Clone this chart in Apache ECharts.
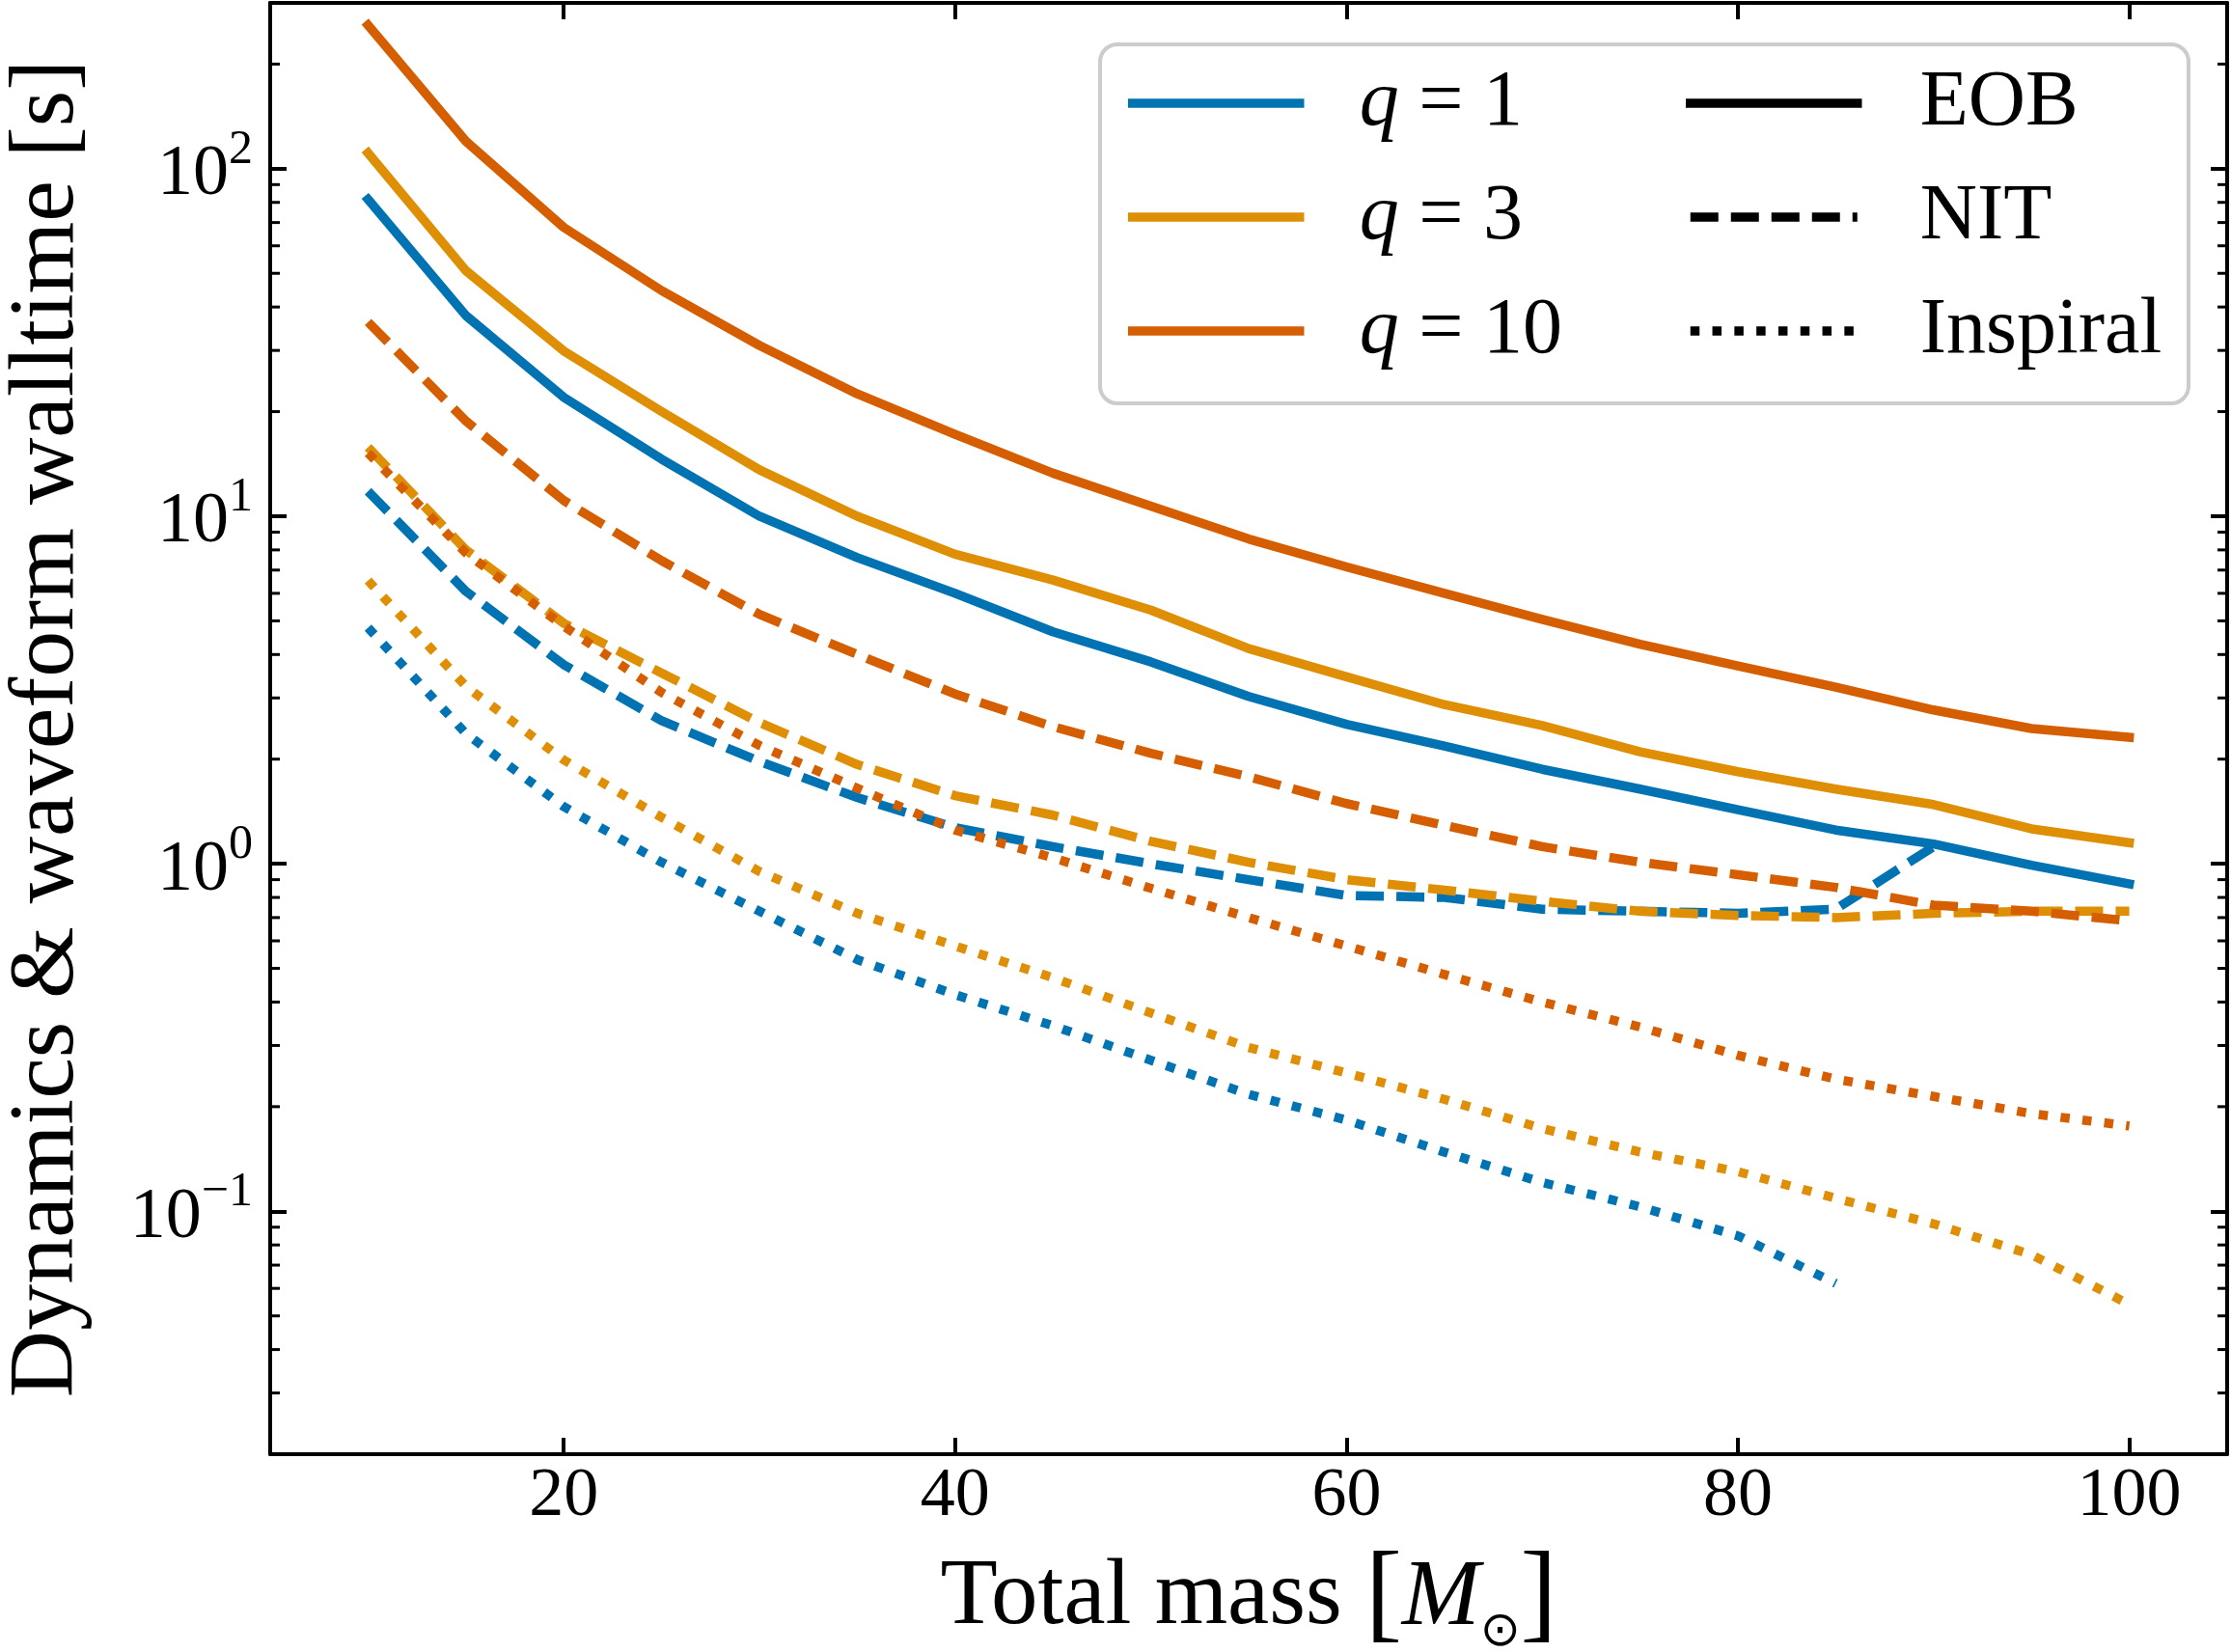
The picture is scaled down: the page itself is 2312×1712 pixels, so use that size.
<!DOCTYPE html>
<html><head><meta charset="utf-8">
<script src="https://cdn.jsdelivr.net/npm/echarts@6/dist/echarts.min.js"></script>
<style>html,body{margin:0;padding:0;background:#fff}#c{width:2312px;height:1712px}</style>
</head><body><div id="c"></div>
<script>
// ---- data ----
const masses = [10, 15, 20, 25, 30, 35, 40, 45, 50, 55, 60, 65, 70, 75, 80, 85, 90, 95, 100];

const q1_EOB = [81.6, 37.8, 22.0, 14.6, 10.0, 7.6, 6.0, 4.65, 3.81, 3.03, 2.52, 2.18, 1.87, 1.64, 1.43, 1.25, 1.14, 0.99, 0.875];
const q3_EOB = [111, 50.9, 29.9, 20.0, 13.6, 10.0, 7.77, 6.55, 5.37, 4.16, 3.45, 2.87, 2.5, 2.10, 1.84, 1.64, 1.48, 1.26, 1.15];
const q10_EOB = [259, 120, 67.8, 44.6, 31.0, 22.5, 17.2, 13.3, 10.7, 8.6, 7.15, 6.0, 5.05, 4.28, 3.71, 3.22, 2.77, 2.45, 2.31];

const q1_NIT = [11.8, 6.08, 3.74, 2.58, 1.97, 1.55, 1.27, 1.12, 1.0, 0.90, 0.81, 0.80, 0.74, 0.73, 0.72, 0.74, 1.12, null, null];
const q3_NIT = [15.8, 8.0, 4.92, 3.54, 2.55, 1.93, 1.57, 1.38, 1.16, 1.01, 0.90, 0.84, 0.78, 0.73, 0.71, 0.70, 0.72, 0.73, 0.73];
const q10_NIT = [36.2, 18.8, 11.1, 7.45, 5.22, 4.0, 3.08, 2.48, 2.08, 1.78, 1.49, 1.29, 1.12, 1.01, 0.93, 0.855, 0.76, 0.73, 0.685];

const q1_Insp = [4.78, 2.37, 1.46, 1.01, 0.73, 0.53, 0.42, 0.342, 0.272, 0.217, 0.183, 0.148, 0.121, 0.103, 0.085, 0.062, null, null, null];
const q3_Insp = [6.53, 3.24, 1.99, 1.36, 0.95, 0.72, 0.58, 0.47, 0.372, 0.296, 0.25, 0.21, 0.173, 0.148, 0.130, 0.109, 0.092, 0.075, 0.054];
const q10_Insp = [15.2, 7.84, 4.83, 3.11, 2.19, 1.65, 1.25, 1.04, 0.85, 0.70, 0.58, 0.48, 0.40, 0.339, 0.281, 0.240, 0.214, 0.191, 0.176];

const qLabels = ['q = 1', 'q = 3', 'q = 10'];
const methodLabels = ['EOB', 'NIT', 'Inspiral'];
const xTickLabels = ['20', '40', '60', '80', '100'];
const yMinorTicks = [0.03, 0.04, 0.05, 0.06, 0.07, 0.08, 0.09,
                     0.2, 0.3, 0.4, 0.5, 0.6, 0.7, 0.8, 0.9,
                     2, 3, 4, 5, 6, 7, 8, 9,
                     20, 30, 40, 50, 60, 70, 80, 90, 200];

// ---- styling ----
const FONT = 'Liberation Serif';
const C_BLUE = '#0173B2', C_ORANGE = '#DE8F05', C_RED = '#D55E00';
const LW = 9.5;
const DASH = [29, 13];
const DOT = [9.5, 13.3];
const X_MIN = 5, X_MAX = 105, Y_MIN = 0.02, Y_MAX = 300;

function pairs(vals) {
  const out = [];
  vals.forEach((v, i) => { if (v !== null) out.push([masses[i], v]); });
  return out;
}
function line(name, vals, color, type) {
  return {
    type: 'line', name: name, data: pairs(vals),
    symbol: 'none', showSymbol: false, smooth: false, silent: true,
    xAxisIndex: 0, yAxisIndex: 0, z: 3,
    lineStyle: { color: color, width: LW, type: type,
      cap: type === 'solid' ? 'square' : 'butt', join: 'round' },
    itemStyle: { color: color }
  };
}

const series = [
  line(qLabels[0], q1_EOB, C_BLUE, 'solid'),
  line('q1 NIT', q1_NIT, C_BLUE, DASH),
  line('q1 Inspiral', q1_Insp, C_BLUE, DOT),
  line(qLabels[1], q3_EOB, C_ORANGE, 'solid'),
  line('q3 NIT', q3_NIT, C_ORANGE, DASH),
  line('q3 Inspiral', q3_Insp, C_ORANGE, DOT),
  line(qLabels[2], q10_EOB, C_RED, 'solid'),
  line('q10 NIT', q10_NIT, C_RED, DASH),
  line('q10 Inspiral', q10_Insp, C_RED, DOT),
  // legend-only style entries
  line(methodLabels[0], [], '#000', 'solid'),
  line(methodLabels[1], [], '#000', DASH),
  line(methodLabels[2], [], '#000', DOT),
  {
    type: 'custom', name: 'minor ticks', silent: true, clip: false, z: 6,
    xAxisIndex: 0, yAxisIndex: 0,
    data: yMinorTicks.map(v => [X_MIN, v]),
    encode: { x: 0, y: 1 },
    renderItem: function (params, api) {
      const v = api.value(1);
      const pl = api.coord([X_MIN, v]);
      const pr = api.coord([X_MAX, v]);
      return { type: 'group', children: [
        { type: 'line', shape: { x1: pl[0], y1: pl[1], x2: pl[0] + 10, y2: pl[1] }, style: { stroke: '#000', lineWidth: 3 } },
        { type: 'line', shape: { x1: pr[0] - 10, y1: pr[1], x2: pr[0], y2: pr[1] }, style: { stroke: '#000', lineWidth: 3 } }
      ]};
    }
  }
];

function yLabel(v) {
  const e = Math.round(Math.log10(v));
  if (Math.abs(v - Math.pow(10, e)) / Math.pow(10, e) > 1e-6) return '';
  return '{b|10}{s|' + (e < 0 ? '\u2212' + (-e) : String(e)) + '}';
}

const axisLineStyle = { color: '#000', width: 4 };
const legendCommon = {
  orient: 'vertical', top: 57, itemWidth: 173, itemHeight: 30, itemGap: 18, padding: 0,
  selectedMode: false, z: 5,
  lineStyle: { width: LW },
  itemStyle: { opacity: 0 },
  inactiveColor: '#000'
};

const option = {
  animation: false,
  backgroundColor: '#fff',
  grid: { left: 280, right: 4, top: 3, bottom: 205, outerBoundsMode: 'none', containLabel: false },
  xAxis: [{
    type: 'value', min: X_MIN, max: X_MAX, position: 'bottom',
    name: 'Total mass {br|[}{i|M}{sub|\u2299}{br|]}', nameLocation: 'middle', nameGap: 90,
    nameTextStyle: { fontFamily: FONT, fontSize: 97, color: '#000', lineHeight: 120,
      rich: {
        i: { fontFamily: FONT, fontSize: 97, fontStyle: 'italic', color: '#000', lineHeight: 120 },
        sub: { fontFamily: 'DejaVu Sans', fontSize: 50, color: '#000', lineHeight: 60, verticalAlign: 'bottom' },
        br: { fontFamily: FONT, fontSize: 114, color: '#000', lineHeight: 120 }
      } },
    axisLine: { show: true, onZero: false, lineStyle: axisLineStyle },
    axisTick: { show: true, inside: true, length: 17, lineStyle: { color: '#000', width: 4 } },
    axisLabel: { show: true, margin: 8, fontFamily: FONT, fontSize: 72, color: '#000',
      formatter: v => (xTickLabels.indexOf(String(v)) >= 0 ? String(v) : '') },
    splitLine: { show: false }
  }, {
    type: 'value', min: X_MIN, max: X_MAX, position: 'top',
    axisLine: { show: true, onZero: false, lineStyle: axisLineStyle },
    axisTick: { show: true, inside: true, length: 17, lineStyle: { color: '#000', width: 4 } },
    axisLabel: { show: false }, splitLine: { show: false }
  }],
  yAxis: [{
    type: 'log', logBase: 10, min: Y_MIN, max: Y_MAX, position: 'left',
    name: 'Dynamics & waveform walltime [s]', nameLocation: 'middle', nameRotate: 90, nameGap: 182,
    nameTextStyle: { fontFamily: FONT, fontSize: 96, color: '#000' },
    axisLine: { show: true, onZero: false, lineStyle: axisLineStyle },
    axisTick: { show: true, inside: true, length: 17, lineStyle: { color: '#000', width: 4 } },
    axisLabel: { show: true, margin: 18, formatter: yLabel,
      rich: {
        b: { fontFamily: FONT, fontSize: 74, color: '#000', lineHeight: 88, verticalAlign: 'bottom' },
        s: { fontFamily: FONT, fontSize: 50, color: '#000', lineHeight: 50, verticalAlign: 'top' }
      } },
    splitLine: { show: false }, minorTick: { show: false }
  }, {
    type: 'log', logBase: 10, min: Y_MIN, max: Y_MAX, position: 'right',
    axisLine: { show: true, onZero: false, lineStyle: axisLineStyle },
    axisTick: { show: true, inside: true, length: 17, lineStyle: { color: '#000', width: 4 } },
    axisLabel: { show: false }, splitLine: { show: false }
  }],
  legend: [
    Object.assign({}, legendCommon, {
      data: qLabels, left: 1169,
      formatter: name => '{i|q} = ' + name.split('= ')[1],
      textStyle: { fontFamily: FONT, fontSize: 82, color: '#000', lineHeight: 100, padding: [0, 0, 0, 57],
        rich: { i: { fontFamily: FONT, fontSize: 82, fontStyle: 'italic', color: '#000', lineHeight: 100 } } }
    }),
    Object.assign({}, legendCommon, {
      data: methodLabels, left: 1747,
      textStyle: { fontFamily: FONT, fontSize: 82, color: '#000', lineHeight: 100, padding: [0, 0, 0, 60] }
    })
  ],
  graphic: [{
    type: 'rect', left: 1138, top: 44, z: 4, silent: true,
    shape: { width: 1128, height: 372, r: 18 },
    style: { fill: 'rgba(255,255,255,0.8)', stroke: '#cccccc', lineWidth: 4 }
  }],
  series: series
};

const chart = echarts.init(document.getElementById('c'), null, { renderer: 'canvas', width: 2312, height: 1712 });
chart.setOption(option);
</script>
</body></html>
